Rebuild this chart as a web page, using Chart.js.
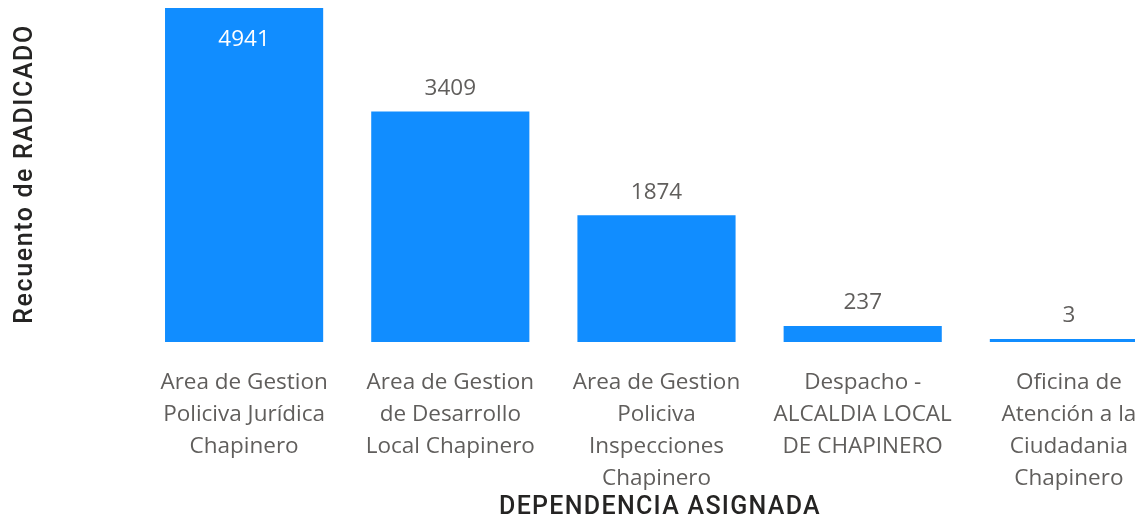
<!DOCTYPE html>
<html>
<head>
<meta charset="utf-8">
<script src="https://cdn.jsdelivr.net/npm/chart.js@4"></script>
<style>
  html, body { margin: 0; padding: 0; background: #fff; overflow: hidden; }
  #wrap { width: 1135px; height: 522px; overflow: hidden; }
  #box { width: 1172px; height: 522px; position: relative; }
</style>
</head>
<body>
<div id="wrap"><div id="box"><canvas id="barChart"></canvas></div></div>
<script>
// data
const categories = [
    ['Area de Gestion', 'Policiva Jurídica', 'Chapinero'],
    ['Area de Gestion', 'de Desarrollo', 'Local Chapinero'],
    ['Area de Gestion', 'Policiva', 'Inspecciones', 'Chapinero'],
    ['Despacho -', 'ALCALDIA LOCAL', 'DE CHAPINERO'],
    ['Oficina de', 'Atención a la', 'Ciudadania', 'Chapinero']
];
const radicados = [4941, 3409, 1874, 237, 3];
const yMax = 4941;
const xTitle = 'DEPENDENCIA ASIGNADA';
const yTitle = 'Recuento de RADICADO';

const labelFont = '22.5px "Open Sans"';
const titleFont = '500 25px Roboto';

// value labels: inside the tallest bar, above the others
const valueLabels = {
    id: 'valueLabels',
    afterDatasetsDraw(chart) {
        const ctx = chart.ctx;
        const meta = chart.getDatasetMeta(0);
        ctx.save();
        ctx.font = labelFont;
        ctx.textAlign = 'center';
        ctx.textBaseline = 'middle';
        meta.data.forEach((bar, i) => {
            const v = radicados[i];
            if (bar.y - chart.chartArea.top < 40) {
                ctx.fillStyle = '#ffffff';
                ctx.fillText(v, bar.x, bar.y + 32);
            } else {
                ctx.fillStyle = '#605E5C';
                ctx.fillText(v, bar.x, bar.y - 23);
            }
        });
        ctx.restore();
    }
};

// axis titles with letter spacing (the built-in title has none)
const axisTitles = {
    id: 'axisTitles',
    afterDraw(chart) {
        const ctx = chart.ctx;
        const area = chart.chartArea;
        ctx.save();
        ctx.font = titleFont;
        ctx.fillStyle = '#252423';
        ctx.textAlign = 'center';
        ctx.textBaseline = 'middle';
        ctx.letterSpacing = '1.3px';
        ctx.fillText(xTitle, 660, 508);
        ctx.letterSpacing = '1.6px';
        ctx.translate(26, (area.top + area.bottom) / 2 - 1);
        ctx.rotate(-Math.PI / 2);
        ctx.fillText(yTitle, 0, 0);
        ctx.restore();
    }
};

const chart = new Chart(document.getElementById('barChart'), {
    type: 'bar',
    data: {
        labels: categories,
        datasets: [{
            label: yTitle,
            data: radicados,
            backgroundColor: '#118DFF',
            borderWidth: 0,
            barPercentage: 0.767,
            categoryPercentage: 1,
            minBarLength: 3
        }]
    },
    options: {
        responsive: true,
        maintainAspectRatio: false,
        animation: false,
        layout: { padding: { top: 8, right: 0, left: 0, bottom: 0 } },
        plugins: {
            legend: { display: false },
            tooltip: { enabled: false }
        },
        scales: {
            x: {
                grid: { display: false, drawTicks: false },
                border: { display: false },
                ticks: {
                    color: '#605E5C',
                    font: { family: 'Open Sans', size: 22.5, lineHeight: 32 / 22.5 },
                    padding: 25,
                    maxRotation: 0,
                    autoSkip: false
                },
                afterFit(scale) { scale.height = 180; }
            },
            y: {
                min: 0,
                max: yMax,
                grid: { display: false, drawTicks: false },
                border: { display: false },
                ticks: { display: false },
                afterFit(scale) { scale.width = 141; }
            }
        }
    },
    plugins: [valueLabels, axisTitles]
});
</script>
</body>
</html>
